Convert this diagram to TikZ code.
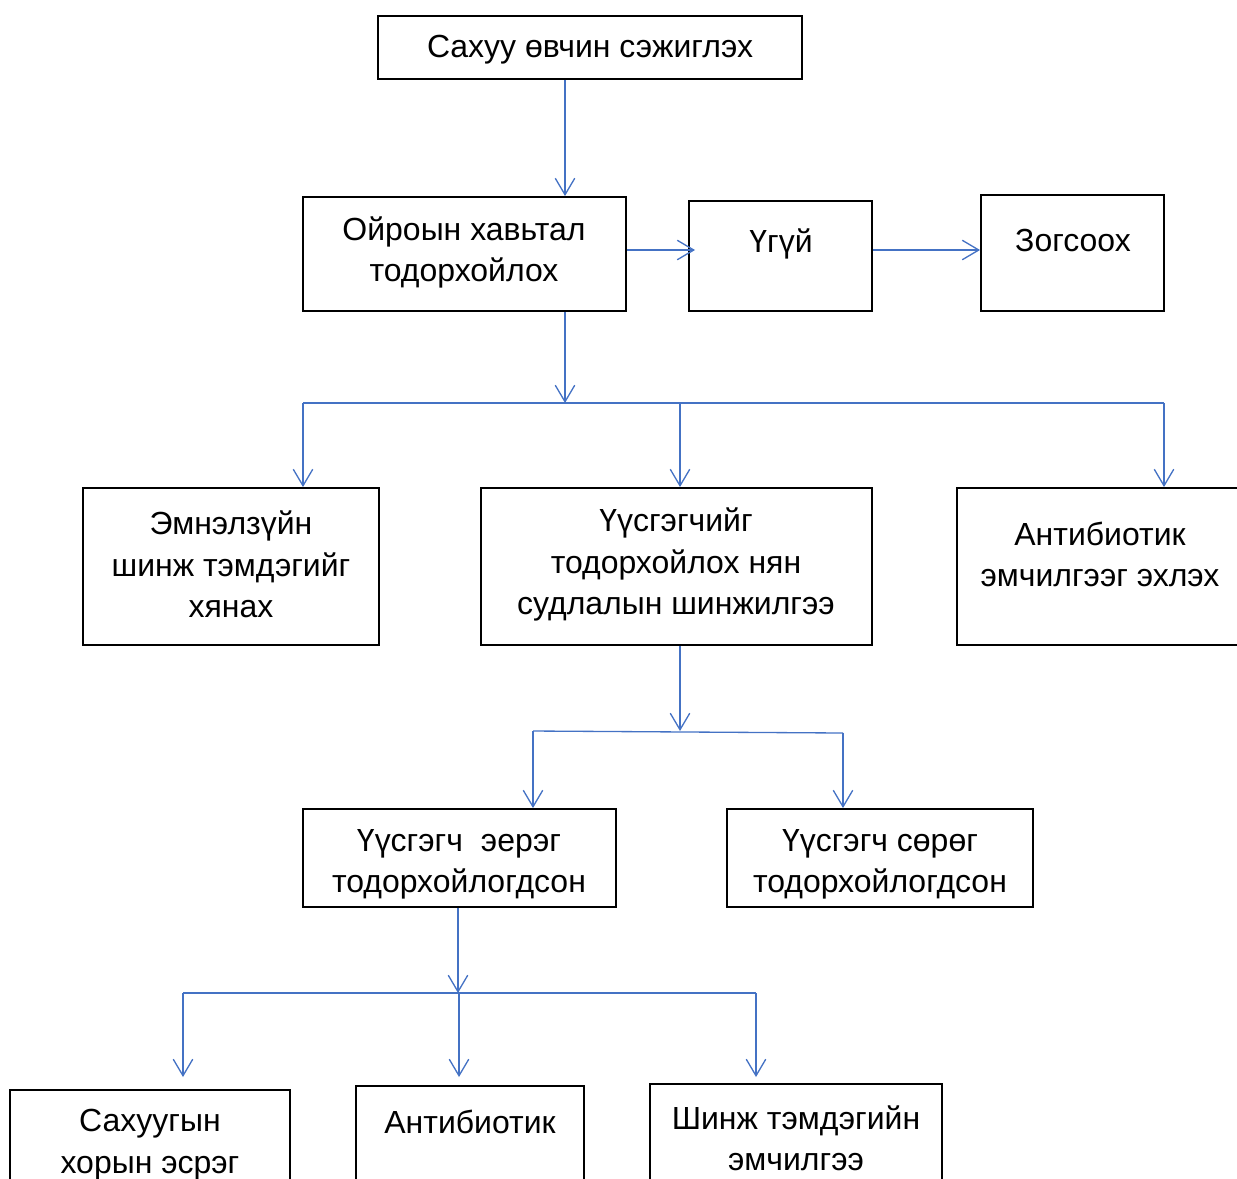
\documentclass[tikz,border=0pt]{standalone}
\usepackage{fontspec}
\setmainfont{Liberation Sans}
\usetikzlibrary{arrows.meta,fit}
\definecolor{flowblue}{RGB}{68,114,196}
\tikzset{
  box/.style={draw=black, line width=1.1pt, inner sep=0pt},
  txt/.style={align=center, inner sep=0pt, yshift=-0.05cm, font=\fontsize{18.2}{23.6}\selectfont},
  bar/.style={draw=flowblue, line width=0.75pt},
  arr/.style={bar, -{Straight Barb[length=0.33cm, width=0.39cm, line width=0.75pt]}}
}
\begin{document}
\begin{tikzpicture}[x=0.02cm, y=-0.02cm]
  \path[use as bounding box, clip] (0,0) rectangle (1237,1178);
  % boxes
  \node[box, fit={(378,16) (802,79)}] (suspect) {};
  \node[box, fit={(303,197) (626,311)}] (contact) {};
  \node[box, fit={(689,201) (872,311)}] (no) {};
  \node[box, fit={(981,195) (1164,311)}] (stop) {};
  \node[box, fit={(83,488) (379,645)}] (clinic) {};
  \node[box, fit={(481,488) (872,645)}] (lab) {};
  \node[box, fit={(957,488) (1260,645)}] (abx) {};
  \node[box, fit={(303,809) (616,907)}] (pos) {};
  \node[box, fit={(727,809) (1033,907)}] (neg) {};
  \node[box, fit={(10,1090) (290,1220)}] (antitox) {};
  \node[box, fit={(356,1086) (584,1220)}] (abx2) {};
  \node[box, fit={(650,1084) (942,1220)}] (sympt) {};
  % texts
  \node[txt] (t-suspect) at (590,47) {Сахуу өвчин сэжиглэх};
  \node[txt] (t-contact) at (464,250) {Ойроын хавьтал\\тодорхойлох};
  \node[txt] (t-no) at (781,241) {Үгүй};
  \node[txt] (t-stop) at (1073,238) {Зогсоох};
  \node[txt] (t-clinic) at (231,562) {Эмнэлзүйн\\шинж тэмдэгийг\\хянах};
  \node[txt] (t-lab) at (676,562) {Үүсгэгчийг\\тодорхойлох нян\\судлалын шинжилгээ};
  \node[txt] (t-abx) at (1100,552) {Антибиотик\\эмчилгээг эхлэх};
  \node[txt] (t-pos) at (459,862) {Үүсгэгч\ \ эерэг\\тодорхойлогдсон};
  \node[txt] (t-neg) at (880,862) {Үүсгэгч сөрөг\\тодорхойлогдсон};
  \node[txt] (t-antitox) at (150,1142) {Сахуугын\\хорын эсрэг};
  \node[txt] (t-abx2) at (470,1119) {Антибиотик};
  \node[txt] (t-sympt) at (796,1136) {Шинж тэмдэгийн\\эмчилгээ};
  % junctions
  \coordinate (c1) at (565,403);
  \coordinate (b1l) at (303,403);
  \coordinate (b1r) at (1164,403);
  \coordinate (c2) at (680,731);
  \coordinate (b2l) at (533,731);
  \coordinate (b2r) at (843,733);
  \coordinate (c3) at (458,993);
  \coordinate (b3l) at (183,993);
  \coordinate (b3m) at (459,993);
  \coordinate (b3r) at (756,993);
  % connectors
  \draw[arr] (suspect.south -| c1) -- (contact.north -| c1);
  \draw[arr] (contact.east |- 0,250) -- ([xshift=0.14cm]no.west |- 0,250);
  \draw[arr] (no.east |- 0,250) -- (stop.west |- 0,250);
  \draw[arr] (contact.south -| c1) -- (c1);
  \draw[bar] (b1l) -- (b1r);
  \draw[arr] (b1l) -- (b1l |- clinic.north);
  \draw[arr] (c2 |- c1) -- (c2 |- lab.north);
  \draw[arr] (b1r) -- (b1r |- abx.north);
  \draw[arr] (lab.south -| c2) -- (c2);
  \draw[bar] (b2l) -- (b2r);
  \draw[arr] (b2l) -- (b2l |- pos.north);
  \draw[arr] (b2r) -- (b2r |- neg.north);
  \draw[arr] (pos.south -| c3) -- (c3);
  \draw[bar] (b3l) -- (b3r);
  \draw[arr] (b3l) -- ++(0,84);
  \draw[arr] (b3m) -- ++(0,84);
  \draw[arr] (b3r) -- ++(0,84);
\end{tikzpicture}
\end{document}
